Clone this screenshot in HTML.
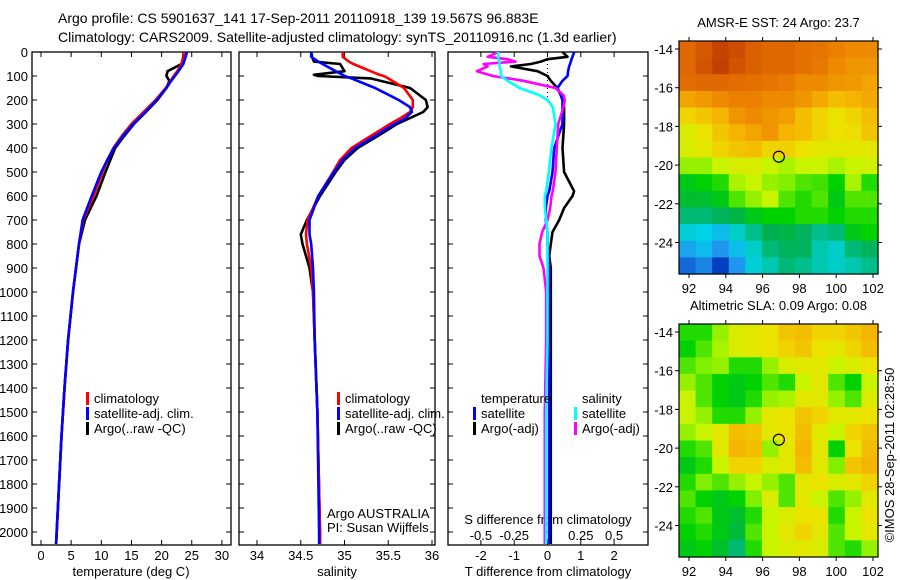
<!DOCTYPE html>
<html><head><meta charset="utf-8"><style>
html,body{margin:0;padding:0;background:#fff;}
svg{display:block;font-family:"Liberation Sans",sans-serif;}
text{fill:#000;}
</style></head><body>
<svg id="c" width="900" height="580" viewBox="0 0 900 580">
<text x="58" y="23" font-size="14">Argo profile: CS 5901637_141 17-Sep-2011 20110918_139 19.567S 96.883E</text>
<text x="58" y="42" font-size="14">Climatology: CARS2009. Satellite-adjusted climatology: synTS_20110916.nc (1.3d earlier)</text>
</svg>
<script>
// ---------- data ----------
const depthTicks = [0,100,200,300,400,500,600,700,800,900,1000,1100,1200,1300,1400,1500,1600,1700,1800,1900,2000];
const tTicks = [0,5,10,15,20,25,30];
const sTicks = [34,34.5,35,35.5,36];
const sTickLabels = ["34","34.5","35","35.5","36"];
const dTTicks = [-2,-1,0,1,2];
const dSTicks = [-0.5,-0.25,0,0.25,0.5];
const dSTickLabels = ["-0.5","-0.25","0","0.25","0.5"];

const tDepth = [0,20,50,80,100,120,150,200,250,300,350,400,450,500,600,700,800,900,1000,1200,1400,1600,1800,2000,2050];
const tClim = [23.8,23.7,23.3,22.6,22.0,21.5,20.7,19.0,17.0,15.0,13.4,12.0,11.0,10.2,8.7,7.0,6.3,5.8,5.3,4.5,3.9,3.4,3.0,2.6,2.5];
const tSat = [24.2,24.0,23.6,22.8,22.2,21.6,20.8,19.2,17.3,15.3,13.6,12.1,11.0,10.0,8.4,6.9,6.3,5.8,5.3,4.5,3.9,3.4,3.0,2.6,2.5];
const tArgo = [23.7,23.6,23.3,21.0,20.8,21.3,20.8,19.3,17.4,15.4,13.8,12.3,11.5,10.7,9.2,7.3,6.3,5.8,5.3,4.5,3.9,3.4,3.0,2.6,2.5];

const sDepth = [0,20,40,50,80,95,100,110,150,200,230,250,280,300,350,400,450,500,600,700,760,800,900,1000,1200,1500,2000,2050];
const sClim = [34.98,34.98,35.05,35.1,35.3,35.4,35.45,35.5,35.68,35.78,35.78,35.75,35.62,35.52,35.3,35.08,34.95,34.87,34.7,34.58,34.56,34.57,34.62,34.64,34.66,34.69,34.72,34.72];
const sSat = [34.62,34.62,34.7,34.75,34.9,34.98,35.0,35.08,35.35,35.62,35.75,35.77,35.68,35.57,35.35,35.12,34.98,34.88,34.7,34.6,34.6,34.62,34.64,34.65,34.66,34.69,34.71,34.71];
const sArgo = [34.62,34.63,34.65,34.95,35.0,34.65,34.7,35.3,35.75,35.93,35.95,35.9,35.72,35.6,35.38,35.15,35.0,34.9,34.72,34.57,34.5,34.52,34.6,34.64,34.66,34.69,34.72,34.72];

const dDepth = [0,20,30,40,50,60,80,100,120,150,180,200,230,300,400,500,580,600,650,700,750,800,850,900,1000,1200,1500,2000,2050];
const dTSat = [0.8,0.75,0.72,0.7,0.68,0.65,0.62,0.6,0.45,0.3,0.4,0.45,0.45,0.45,0.2,0.15,0.05,0.0,-0.05,-0.05,0,0,0.02,0.05,0.05,0.05,0.05,0.05,0.05];
const dTArgo = [0.45,0.6,0.0,-0.2,-0.5,-1.1,-0.3,0,0.1,0.3,0.4,0.45,0.5,0.5,0.45,0.5,0.8,0.75,0.5,0.35,0.15,0.1,0.05,0.1,0.1,0.1,0.1,0.1,0.1];
const dSSat = [-0.37,-0.37,-0.37,-0.36,-0.36,-0.36,-0.35,-0.35,-0.3,-0.21,-0.06,0.0,0.04,0.06,0.03,0.01,-0.01,-0.02,-0.02,-0.01,0,0,0,0,0,0,-0.01,-0.01,-0.01];
const dSArgo = [-0.37,-0.45,-0.3,-0.24,-0.48,-0.45,-0.53,-0.41,-0.18,0.06,0.12,0.13,0.12,0.08,0.07,0.06,0.04,0.03,0.02,0,-0.04,-0.06,-0.06,-0.03,-0.01,-0.01,-0.02,-0.02,-0.02];

const latTicks = [-14,-16,-18,-20,-22,-24];
const lonTicks = [92,94,96,98,100,102];
const sstGrid = [
[.88,.92,.97,.95,.9,.88,.88,.86,.85,.82,.8,.8],
[.88,.93,.98,.93,.9,.88,.88,.86,.84,.8,.78,.78],
[.87,.88,.88,.87,.86,.85,.83,.8,.8,.78,.77,.75],
[.75,.77,.8,.82,.82,.8,.8,.78,.74,.7,.72,.74],
[.65,.68,.72,.78,.8,.78,.76,.7,.65,.62,.65,.7],
[.58,.62,.68,.72,.75,.78,.72,.7,.65,.62,.63,.68],
[.58,.6,.65,.68,.7,.65,.66,.62,.6,.6,.6,.6],
[.5,.5,.55,.58,.58,.55,.52,.55,.55,.52,.55,.56],
[.38,.4,.42,.52,.55,.5,.48,.45,.44,.4,.52,.42],
[.36,.36,.38,.45,.5,.55,.45,.42,.45,.38,.45,.45],
[.3,.3,.32,.34,.38,.4,.4,.42,.42,.4,.42,.42],
[.2,.18,.15,.22,.28,.33,.34,.32,.28,.3,.38,.4],
[.12,.15,.1,.15,.22,.3,.32,.32,.25,.22,.3,.32],
[.05,.08,.0,.1,.2,.25,.3,.28,.25,.22,.25,.28]];
const slaGrid = [
[.42,.42,.5,.58,.6,.62,.68,.7,.65,.65,.68,.72],
[.4,.45,.52,.58,.6,.62,.65,.68,.62,.6,.65,.7],
[.45,.48,.5,.42,.42,.5,.58,.6,.6,.55,.58,.62],
[.5,.45,.4,.38,.4,.45,.42,.55,.6,.45,.4,.55],
[.55,.45,.4,.38,.42,.5,.52,.6,.6,.5,.45,.58],
[.55,.5,.42,.42,.5,.6,.62,.68,.65,.6,.6,.62],
[.5,.55,.6,.7,.68,.6,.62,.7,.6,.55,.65,.68],
[.42,.45,.6,.72,.7,.5,.6,.72,.6,.4,.62,.7],
[.38,.42,.55,.65,.65,.58,.6,.7,.6,.48,.68,.72],
[.42,.48,.45,.5,.55,.5,.45,.6,.62,.58,.6,.65],
[.45,.4,.38,.4,.48,.58,.45,.6,.55,.45,.5,.6],
[.42,.45,.38,.36,.42,.55,.58,.62,.62,.42,.55,.62],
[.4,.42,.38,.35,.45,.55,.6,.65,.6,.45,.55,.6],
[.38,.4,.36,.3,.42,.55,.58,.6,.58,.45,.42,.5]];
const floatLon = 96.883, floatLat = -19.567;

// ---------- helpers ----------
const svg = document.getElementById('c');
const NS = 'http://www.w3.org/2000/svg';
function mk(tag, attrs, parent){ const e=document.createElementNS(NS,tag); for(const k in attrs) e.setAttribute(k,attrs[k]); (parent||svg).appendChild(e); return e; }
function txt(x,y,s,size,anchor,parent){ const t=mk('text',{x:x,y:y,'font-size':size,'text-anchor':anchor||'start'},parent); t.textContent=s; return t; }

const TOP=52, BOT=545;
const yD = d => TOP + d*0.24;
const panels = [
  {name:'temperature', x0:32, x1:231},
  {name:'salinity', x0:239, x1:435},
  {name:'difference', x0:448, x1:648}
];
const xT = t => 41 + t*6.03;
const xS = s => 257 + (s-34)*87.5;
const xDT = v => 547.5 + v*33.3;
const xDS = v => 547.5 + v*133.2;

// frames + depth ticks
panels.forEach(p=>{
  const g = mk('g',{});
  
  
  const r = mk('rect',{x:p.x0,y:TOP,width:p.x1-p.x0,height:BOT-TOP,fill:'none',stroke:'#000','stroke-width':1.3},g);
  
  
  depthTicks.forEach(d=>{
    mk('line',{x1:p.x0,x2:p.x0+5,y1:yD(d),y2:yD(d),stroke:'#000'},g);
    mk('line',{x1:p.x1,x2:p.x1-5,y1:yD(d),y2:yD(d),stroke:'#000'},g);
  });
});
// depth labels
const dl = mk('g',{});


depthTicks.forEach(d=>{ txt(28, yD(d)+5, String(d), 13, 'end', dl); });

function xTicks(vals, labels, fx, p, ly){
  const g = mk('g',{});
  
  
  vals.forEach((v,i)=>{
    const x=fx(v);
    mk('line',{x1:x,x2:x,y1:BOT,y2:BOT-5,stroke:'#000'},g);
    mk('line',{x1:x,x2:x,y1:TOP,y2:TOP+5,stroke:'#000'},g);
    if(ly) txt(x, ly, labels[i], 13, 'middle', g);
  });
}
xTicks(tTicks, tTicks.map(String), xT, panels[0], 560);
xTicks(sTicks, sTickLabels, xS, panels[1], 560);
xTicks(dTTicks, dTTicks.map(String), xDT, panels[2], 560);
// S ticks on diff panel (labels inside)
const sg = mk('g',{});


dSTicks.forEach((v,i)=>{ txt(xDS(v), 540, dSTickLabels[i], 13, 'middle', sg); });
const sdl = txt(548, 524, 'S difference from climatology', 13, 'middle');


// zero dotted line
const zl = mk('line',{x1:xDT(0),x2:xDT(0),y1:TOP,y2:yD(200),stroke:'#000','stroke-dasharray':'1,3'});



// axis titles
[['temperature (deg C)',131,'temperature-axis-title'],['salinity',337,'salinity-axis-title'],['T difference from climatology',548,'t-difference-axis-title']].forEach(a=>{
  const t=txt(a[1],576,a[0],13,'middle');
  
  
});

function line(depths, vals, fx, color, name){
  const pts = depths.map((d,i)=>fx(vals[i]).toFixed(1)+','+yD(d).toFixed(1)).join(' ');
  const pl = mk('polyline',{points:pts,fill:'none',stroke:color,'stroke-width':2.6,'stroke-linejoin':'round'});
  
  
}
line(tDepth,tArgo,xT,'#000','temperature-argo-line');
line(tDepth,tClim,xT,'#ff0000','temperature-climatology-line');
line(tDepth,tSat,xT,'#0000ff','temperature-satellite-line');
line(sDepth,sArgo,xS,'#000','salinity-argo-line');
line(sDepth,sClim,xS,'#ff0000','salinity-climatology-line');
line(sDepth,sSat,xS,'#0000ff','salinity-satellite-line');
line(dDepth,dTArgo,xDT,'#000','t-diff-argo-line');
line(dDepth,dTSat,xDT,'#0000ff','t-diff-satellite-line');
line(dDepth,dSArgo,xDS,'#ff00ff','s-diff-argo-line');
line(dDepth,dSSat,xDS,'#00ffff','s-diff-satellite-line');

// legends
function legend(x, y, color, label, name){
  const g = mk('g',{});
  
  
  mk('rect',{x:x,y:y-11,width:3,height:13,fill:color},g);
  txt(x+8, y, label, 13, 'start', g);
}
legend(86,403,'#ff0000','climatology','legend-temp-climatology');
legend(86,418,'#0000ff','satellite-adj. clim.','legend-temp-satellite');
legend(86,433,'#000','Argo(..raw -QC)','legend-temp-argo');
legend(337,403,'#ff0000','climatology','legend-sal-climatology');
legend(337,418,'#0000ff','satellite-adj. clim.','legend-sal-satellite');
legend(337,433,'#000','Argo(..raw -QC)','legend-sal-argo');
const lt = txt(481,403,'temperature',13);  
const ls = txt(582,403,'salinity',13);  
legend(473,418,'#0000ff','satellite','legend-t-satellite');
legend(473,433,'#000','Argo(-adj)','legend-t-argo');
legend(574,418,'#00ffff','satellite','legend-s-satellite');
legend(574,433,'#ff00ff','Argo(-adj)','legend-s-argo');
const a1 = txt(327,518,'Argo AUSTRALIA',13);  
const a2 = txt(327,532,'PI: Susan Wijffels',13);  

// ---------- maps ----------
const stops = [[0,[0,64,192]],[0.1,[32,150,240]],[0.18,[0,210,232]],[0.25,[0,200,176]],[0.33,[0,176,80]],[0.4,[0,210,0]],[0.48,[128,240,0]],[0.55,[200,244,0]],[0.62,[236,226,0]],[0.72,[245,180,0]],[0.82,[235,128,0]],[0.9,[220,96,0]],[1,[190,56,0]]];
function cmap(v){
  for(let i=1;i<stops.length;i++){ if(v<=stops[i][0]){ const a=stops[i-1],b=stops[i]; const f=(v-a[0])/(b[0]-a[0]); const c=a[1].map((x,k)=>Math.round(x+(b[1][k]-x)*f)); return 'rgb('+c.join(',')+')'; } }
  return 'rgb(190,56,0)';
}
function drawMap(grid, top, title, name){
  const L=679,R=878,T=top,B=top+233;
  const xL = lon => 689 + (lon-92)*18.4;
  const yL = lat => T+8 + (-14-lat)*19.35;
  const g = mk('g',{});
  
  
  const rows=grid.length, cols=grid[0].length, cw=(R-L)/cols, ch=(B-T)/rows;
  grid.forEach((row,r)=>row.forEach((v,c)=>{
    const cell = mk('rect',{x:(L+c*cw).toFixed(2),y:(T+r*ch).toFixed(2),width:(cw+0.6).toFixed(2),height:(ch+0.6).toFixed(2),fill:cmap(v)},g);
    
    
  }));
  mk('rect',{x:L,y:T,width:R-L,height:B-T,fill:'none',stroke:'#000','stroke-width':1.2},g);
  latTicks.forEach(lat=>{ const y=yL(lat); mk('line',{x1:L-4,x2:L,y1:y,y2:y,stroke:'#000'},g); mk('line',{x1:R,x2:R+4,y1:y,y2:y,stroke:'#000'},g); txt(L-6,y+5,String(lat),13,'end',g); });
  lonTicks.forEach(lon=>{ const x=xL(lon); mk('line',{x1:x,x2:x,y1:T-4,y2:T,stroke:'#000'},g); mk('line',{x1:x,x2:x,y1:B,y2:B+4,stroke:'#000'},g); txt(x,B+19,String(lon),13,'middle',g); });
  const t = txt((L+R)/2, T-14, title, 13, 'middle', g);
  
  
  const m = mk('circle',{cx:xL(floatLon),cy:yL(floatLat),r:5.5,fill:'none',stroke:'#000','stroke-width':1.2},g);
  
  
}
drawMap(sstGrid, 41, 'AMSR-E SST: 24 Argo: 23.7', 'sst-map');
drawMap(slaGrid, 324, 'Altimetric SLA: 0.09 Argo: 0.08', 'sla-map');
const cr = txt(0,0,'©IMOS 28-Sep-2011 02:28:50',13,'middle');
cr.setAttribute('transform','translate(894,455) rotate(-90)');


</script>
</body></html>
